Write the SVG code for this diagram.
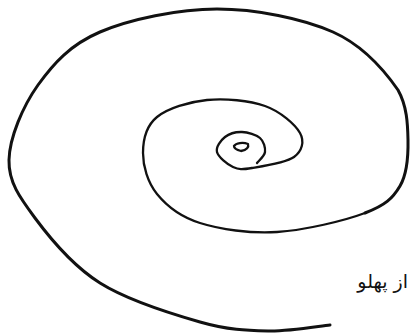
<svg xmlns="http://www.w3.org/2000/svg" width="411" height="334" viewBox="0 0 411 334">
<style>
.ln{fill:none;stroke:#111;stroke-linecap:round;stroke-linejoin:round}
.lbl{font-family:"DejaVu Sans",sans-serif;font-size:19px;fill:#111}
</style>
<rect width="411" height="334" fill="#fff"/>
<g id="spiral">
<path class="ln" stroke-width="3" d="M330,325 C319.7,326 289.7,331.5 268,331 C246.3,330.5 228,330 200,322 C172,314 127.5,300.3 100,283 C72.5,265.7 50.2,238.5 35,218 C19.8,197.5 8.5,182.2 9,160 C9.5,137.8 22.8,106.3 38,85 C53.2,63.7 70.2,44.7 100,32 C129.8,19.3 178.2,9 217,9 C255.8,9 302.8,18.5 333,32 C363.2,45.5 385.5,72 398,90 C407,106 407.7,124 408,140 C408.3,156 407.2,173.8 400,186 C392.8,198.2 385.5,205.3 365,213"/>
<path class="ln" stroke-width="2.3" d="M365,213 C344.5,220.7 304.5,230.3 277,232 C249.5,233.7 220,229.3 200,223 C180,216.7 166.5,205.7 157,194 C147.5,182.3 143,165.8 143,153 C143,140.2 146.3,125.8 157,117 C167.7,108.2 189,101.8 207,100 C225,98.2 249.5,100.5 265,106 C280.5,111.5 295.2,124.5 300,133 C304.8,141.5 302,151.2 294,157 C286,162.8 262.2,166.3 252,168 C241.8,169.7 238.8,169.7 233,167 C227.2,164.3 218.3,157 217,152 C215.7,147 220.8,140.3 225,137 C229.2,133.7 236.2,131.8 242,132 C247.8,132.2 256.2,134.7 260,138 C263.8,141.3 265.5,147.8 265,152 C264.5,156.2 258.3,161.2 257,163"/>
<path class="ln" stroke-width="2.3" d="M234,146 C236,143 243,142 248,144 C249,147 247,150 241,151 C237,150 234,149 234,146 Z"/>
</g>
<g id="label">
<text class="lbl" x="408" y="288" text-anchor="end">از پهلو</text>
</g>
</svg>
